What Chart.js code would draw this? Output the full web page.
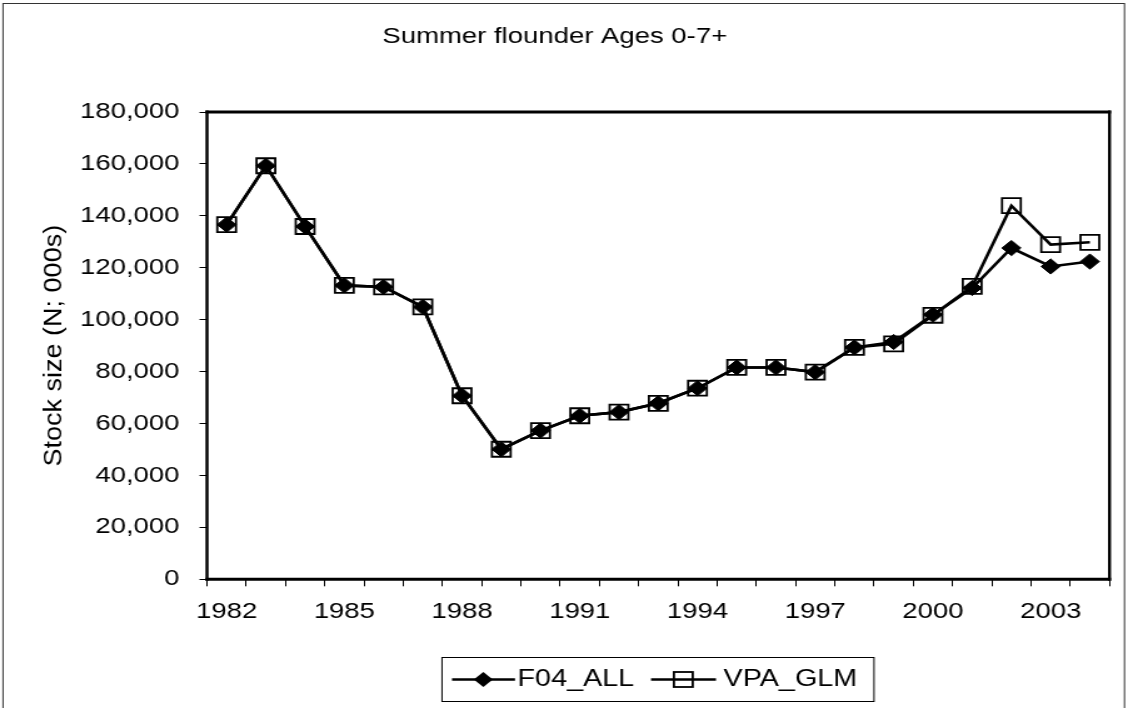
<!DOCTYPE html>
<html><head><meta charset="utf-8">
<script src="https://cdn.jsdelivr.net/npm/chart.js@4.4.1/dist/chart.umd.min.js"></script>
<style>
html,body{margin:0;padding:0;background:#fff;overflow:hidden;}
#wrap{width:902px;height:708px;transform:scale(1.25055,1);transform-origin:0 0;}
canvas{display:block;}
</style></head><body>
<div id="wrap"><canvas id="c" width="902" height="708" style="width:902px;height:708px"></canvas></div>
<script>
// ---- data ----
const years = ['1982','1983','1984','1985','1986','1987','1988','1989','1990','1991','1992','1993','1994','1995','1996','1997','1998','1999','2000','2001','2002','2003','2004'];
const f04All = [136600,159300,135900,113200,112600,104900,70700,50100,57300,63000,64400,67800,73600,81600,81600,79800,89300,91400,101900,112200,127600,120500,122400];
const vpaGlm = [136600,159300,135900,113200,112600,104900,70700,50100,57300,63000,64400,67800,73600,81600,81600,79800,89300,90700,101700,112800,143900,128900,129800];
const seriesNames = ['F04_ALL','VPA_GLM'];
const chartTitle = 'Summer flounder Ages 0-7+';
const yAxisTitle = 'Stock size (N; 000s)';
const yMin = 0, yMax = 180000, yStep = 20000;
const xLabelEvery = 3;

// ---- layout helpers ----
const SX = 1128/902;
const ix = x => x / SX;          // reference x -> internal canvas x
const FONT = '"Liberation Sans", Arial, sans-serif';
const PLOT_LEFT = ix(207), PLOT_RIGHT = ix(1109.5), PLOT_TOP = 112, PLOT_BOTTOM = 579.3;
const X_AXIS_H = 60;

function diamond(c, x, y, r){
  c.beginPath(); c.moveTo(x - r, y); c.lineTo(x, y - r); c.lineTo(x + r, y); c.lineTo(x, y + r); c.closePath();
}

const decor = {
  id: 'decor',
  beforeDraw(chart){
    const c = chart.ctx; c.save(); c.fillStyle = '#fff'; c.fillRect(0, 0, chart.width, chart.height); c.restore();
  },
  beforeDatasetsDraw(chart){
    const a = chart.chartArea, c = chart.ctx;
    c.save(); c.strokeStyle = '#000';
    c.lineWidth = 3;
    c.beginPath(); c.moveTo(a.left - 1.2, a.top); c.lineTo(a.right + 1.2, a.top);
    c.moveTo(a.left - 1.2, a.bottom); c.lineTo(a.right + 1.2, a.bottom); c.stroke();
    c.lineWidth = 2.4;
    c.beginPath(); c.moveTo(a.left, a.top - 1.5); c.lineTo(a.left, a.bottom + 1.5);
    c.moveTo(a.right, a.top - 1.5); c.lineTo(a.right, a.bottom + 1.5); c.stroke();
    c.restore();
  },
  afterDraw(chart){
    const c = chart.ctx;
    c.save();
    // outer frame
    c.strokeStyle = '#333'; c.lineWidth = 1;
    c.strokeRect(ix(3), 3.5, ix(1124.5) - ix(3), 720);
    // y axis title
    c.save();
    c.translate(ix(55), (PLOT_TOP + PLOT_BOTTOM) / 2);
    c.rotate(-Math.PI / 2);
    c.scale(1, 0.72);
    c.font = '27px ' + FONT; c.fillStyle = '#000'; c.textAlign = 'center'; c.textBaseline = 'middle';
    c.fillText(yAxisTitle, 0, 0);
    c.restore();
    // legend
    c.strokeStyle = '#000'; c.lineWidth = 1;
    c.strokeRect(ix(442), 657.5, ix(874) - ix(442), 44);
    const ly = 679.5;
    c.lineWidth = 2.6;
    c.beginPath(); c.moveTo(ix(452), ly); c.lineTo(ix(515), ly); c.stroke();
    c.fillStyle = '#000'; diamond(c, ix(483.3), ly, 7.6); c.fill();
    c.beginPath(); c.moveTo(ix(651), ly); c.lineTo(ix(716), ly); c.stroke();
    c.lineWidth = 1.8; c.strokeRect(ix(683.3) - 7.5, ly - 7.5, 15, 15);
    c.font = '23px ' + FONT; c.textAlign = 'left'; c.textBaseline = 'alphabetic';
    c.fillText(seriesNames[0], ix(517.5), 685.5);
    c.fillText(seriesNames[1], ix(723.5), 685.5);
    c.restore();
  }
};

new Chart(document.getElementById('c'), {
  type: 'line',
  data: {
    labels: years,
    datasets: [
      { label: seriesNames[0], data: f04All, order: 1,
        borderColor: '#000', borderWidth: 2.6, tension: 0,
        pointStyle: 'rectRot', pointRadius: 7.6, pointBackgroundColor: '#000', pointBorderColor: '#000', pointBorderWidth: 1 },
      { label: seriesNames[1], data: vpaGlm, order: 0,
        borderColor: '#000', borderWidth: 2.6, tension: 0,
        pointStyle: 'rect', pointRadius: 10.6, pointBackgroundColor: 'rgba(0,0,0,0)', pointBorderColor: '#000', pointBorderWidth: 1.8 }
    ]
  },
  options: {
    responsive: false, animation: false, devicePixelRatio: 1, events: [],
    layout: { padding: { left: 0, right: 902 - PLOT_RIGHT, top: 0, bottom: 708 - PLOT_BOTTOM - X_AXIS_H } },
    plugins: {
      legend: { display: false }, tooltip: { enabled: false },
      title: { display: true, text: chartTitle, color: '#000',
        font: { family: FONT, size: 22, weight: 'normal', lineHeight: 1.2 },
        padding: { top: 37 - 13.2, bottom: PLOT_TOP - (37 - 13.2) - 26.4 } }
    },
    scales: {
      x: {
        type: 'category', offset: true,
        afterFit: s => { s.height = X_AXIS_H; },
        grid: { offset: true, drawOnChartArea: false, drawTicks: true, tickLength: 7, color: '#000', lineWidth: 1 },
        border: { display: false },
        ticks: { autoSkip: false, maxRotation: 0, minRotation: 0, padding: 12, color: '#000',
          font: { family: FONT, size: 22 },
          callback: function(v, i){ return i % xLabelEvery === 0 ? years[i] : ''; } }
      },
      y: {
        min: yMin, max: yMax,
        afterFit: s => { s.width = PLOT_LEFT; },
        grid: { drawOnChartArea: false, drawTicks: true, tickLength: 6, color: '#000', lineWidth: 1 },
        border: { display: false },
        ticks: { stepSize: yStep, padding: 16, color: '#000', font: { family: FONT, size: 22 },
          callback: v => v.toLocaleString('en-US') }
      }
    }
  },
  plugins: [decor]
});
</script>
</body></html>
